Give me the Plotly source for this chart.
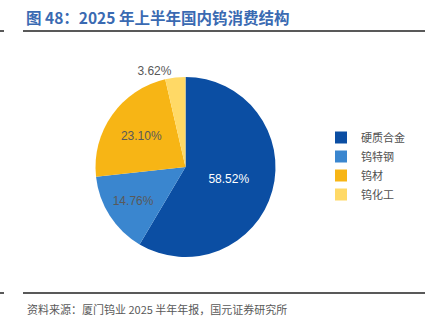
import plotly.graph_objects as go

categories = ["硬质合金", "钨特钢", "钨材", "钨化工"]
values = [58.52, 14.76, 23.10, 3.62]
colors = ["#0B4EA3", "#3A86CF", "#F7B515", "#FFD966"]
title_text = "图 48：2025 年上半年国内钨消费结构"
source_text = "资料来源：厦门钨业 2025 半年年报，国元证券研究所"

W, H = 435, 326
cx, cy, r = 185.5, 167, 90

fig = go.Figure()
fig.add_trace(go.Pie(
    labels=categories,
    values=values,
    sort=False,
    direction="clockwise",
    rotation=0,
    marker=dict(colors=colors, line=dict(width=0)),
    texttemplate=[f"{v:.2f}%" for v in values],
    textinfo="text",
    textposition=["inside", "inside", "inside", "outside"],
    insidetextorientation="horizontal",
    textfont=dict(family="Liberation Sans, Arial", size=12),
    insidetextfont=dict(color=["#FFFFFF", "#595959", "#595959", "#595959"], size=12),
    outsidetextfont=dict(color="#595959", size=12),
    domain=dict(x=[(cx - r) / W, (cx + r) / W], y=[(H - cy - r) / H, (H - cy + r) / H]),
    hoverinfo="label+percent",
    showlegend=True,
))

fig.update_layout(
    width=W, height=H,
    margin=dict(l=0, r=0, t=0, b=0),
    paper_bgcolor="white",
    plot_bgcolor="white",
    legend=dict(
        x=321 / W, y=1 - 123 / H, xanchor="left", yanchor="top",
        font=dict(family="Noto Sans CJK SC", size=11, color="#505050"),
        itemwidth=30,
        tracegroupgap=0,
        traceorder="normal",
    ),
    annotations=[
        dict(text=f"<b>{title_text}</b>", x=24 / W, y=1 - 17 / H, xref="paper", yref="paper",
             xanchor="left", yanchor="middle", showarrow=False,
             font=dict(family="Noto Sans CJK SC", size=15.5, color="#3A6AB2")),
        dict(text=source_text, x=25 / W, y=1 - 309 / H, xref="paper", yref="paper",
             xanchor="left", yanchor="middle", showarrow=False,
             font=dict(family="Noto Sans CJK SC", size=11, color="#595959")),
    ],
    shapes=[
        dict(type="line", xref="paper", yref="paper", x0=23 / W, x1=425 / W, y0=1 - 31 / H, y1=1 - 31 / H,
             line=dict(color="#222222", width=1.5)),
        dict(type="line", xref="paper", yref="paper", x0=0, x1=4 / W, y0=1 - 31 / H, y1=1 - 31 / H,
             line=dict(color="#222222", width=1.5)),
        dict(type="line", xref="paper", yref="paper", x0=23 / W, x1=425 / W, y0=1 - 293 / H, y1=1 - 293 / H,
             line=dict(color="#222222", width=1.5)),
        dict(type="line", xref="paper", yref="paper", x0=0, x1=4 / W, y0=1 - 293 / H, y1=1 - 293 / H,
             line=dict(color="#222222", width=1.5)),
    ],
)

fig.write_html("out.html")
